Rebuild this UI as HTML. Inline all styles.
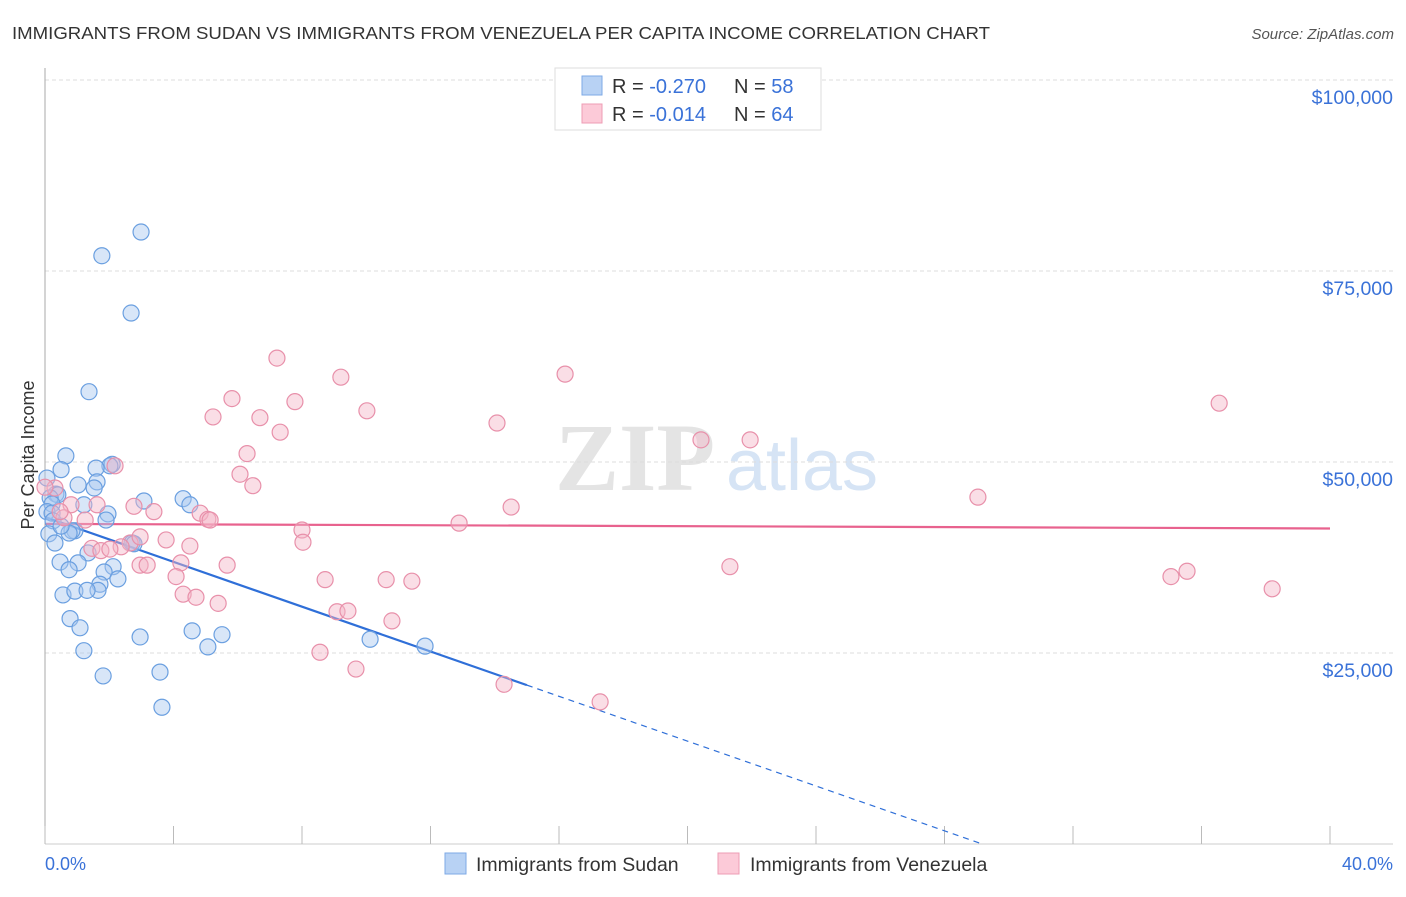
<!DOCTYPE html>
<html><head><meta charset="utf-8"><style>
body{margin:0;background:#fff;font-family:"Liberation Sans",sans-serif}
</style></head><body>
<svg width="1406" height="892" xmlns="http://www.w3.org/2000/svg" font-family="Liberation Sans, sans-serif">
<text x="12" y="39" font-size="17.5" fill="#333" textLength="978" lengthAdjust="spacingAndGlyphs">IMMIGRANTS FROM SUDAN VS IMMIGRANTS FROM VENEZUELA PER CAPITA INCOME CORRELATION CHART</text>
<text x="1394" y="39" font-size="15" fill="#555" font-style="italic" text-anchor="end">Source: ZipAtlas.com</text>
<g>
<text x="635" y="490" font-size="96" font-family="Liberation Serif, serif" fill="#e4e4e4" text-anchor="middle" font-weight="bold">ZIP</text>
<text x="802" y="490" font-size="72" fill="#d6e4f5" text-anchor="middle">atlas</text>
</g>
<g id="grid"></g>
<g id="axes"></g>
<g id="lines"></g>
<g id="pts"></g>
<text x="29" y="455" font-size="18" fill="#333" text-anchor="middle" transform="rotate(-90 29 455)" dy="5">Per Capita Income</text>
<text x="45" y="870" font-size="18" fill="#3a72d8">0.0%</text>
<text x="1393" y="870" font-size="18" fill="#3a72d8" text-anchor="end">40.0%</text>
<g>
<rect x="555" y="68" width="266" height="62" fill="#fff" stroke="#ddd"/>
<rect x="582" y="76" width="20" height="19" fill="#b8d2f4" stroke="#7ea9e6"/>
<rect x="582" y="104" width="20" height="19" fill="#fccad8" stroke="#ee9cb4"/>
<text x="612" y="93" font-size="20" fill="#333">R = <tspan fill="#3a72d8">-0.270</tspan><tspan x="734">N = </tspan><tspan fill="#3a72d8">58</tspan></text>
<text x="612" y="121" font-size="20" fill="#333">R = <tspan fill="#3a72d8">-0.014</tspan><tspan x="734">N = </tspan><tspan fill="#3a72d8">64</tspan></text>
</g>
<g>
<rect x="445" y="853" width="21" height="21" fill="#b8d2f4" stroke="#7ea9e6"/>
<text x="476" y="871" font-size="19.5" fill="#333">Immigrants from Sudan</text>
<rect x="718" y="853" width="21" height="21" fill="#fccad8" stroke="#ee9cb4"/>
<text x="750" y="871" font-size="19.5" fill="#333">Immigrants from Venezuela</text>
</g>
</svg>
<script>
const yTicks=[25000,50000,75000,100000];
const yTickLabels=["$25,000","$50,000","$75,000","$100,000"];
const xTicks=[0,4,8,12,16,20,24,28,32,36,40];
const sudanX=[2.99,1.77,2.68,1.37,0.65,0.50,2.09,2.02,1.59,1.03,1.62,1.53,0.34,0.40,0.16,1.21,0.22,3.08,4.30,4.51,0.06,0.22,1.96,1.90,0.25,0.93,0.84,0.75,0.12,2.71,2.77,1.34,0.47,1.03,2.12,1.84,0.75,2.27,1.71,0.56,0.93,1.65,1.31,0.78,1.09,2.96,4.58,5.51,5.07,1.21,1.81,3.58,3.64,10.12,11.83,0.06,0.31,0.50];
const sudanY=[80.1,77.0,69.5,59.2,50.8,49.0,49.7,49.5,49.2,47.0,47.4,46.6,45.8,45.7,45.3,44.4,44.5,44.9,45.2,44.4,43.5,43.3,43.2,42.4,42.3,41.0,41.0,40.7,40.6,39.4,39.3,38.1,36.9,36.8,36.3,35.6,35.9,34.7,34.0,32.6,33.1,33.2,33.2,29.5,28.3,27.1,27.9,27.4,25.8,25.3,22.0,22.5,17.9,26.8,25.9,47.9,39.4,41.6];
const venX=[7.22,16.19,9.21,5.82,7.78,10.02,5.23,6.69,14.07,7.32,20.42,21.95,6.29,2.18,6.07,6.47,0.31,29.04,14.51,2.77,0.81,1.62,3.39,4.83,5.07,0.59,12.89,8.00,3.77,4.51,2.65,2.37,1.46,1.74,2.02,2.96,3.18,5.67,4.23,4.08,8.72,10.62,11.42,21.32,35.55,35.05,4.30,4.70,5.39,9.09,9.43,10.80,8.56,9.68,14.29,17.28,36.55,38.20,0.0,0.47,5.14,8.03,1.25,2.96];
const venY=[63.6,61.5,61.1,58.3,57.9,56.7,55.9,55.8,55.1,53.9,52.9,52.9,51.1,49.5,48.4,46.9,46.6,45.4,44.1,44.2,44.4,44.4,43.5,43.3,42.5,42.7,42.0,41.1,39.8,39.0,39.4,38.9,38.7,38.4,38.6,36.5,36.5,36.5,36.8,35.0,34.6,34.6,34.4,36.3,35.7,35.0,32.7,32.3,31.5,30.4,30.5,29.2,25.1,22.9,20.9,18.6,57.7,33.4,46.7,43.5,42.4,39.5,42.4,40.2];
const sudanTrend=[42.8,-1.467];
const venTrend=[41.9,-0.015];
const sudanSolidEnd=15.0;

const NS="http://www.w3.org/2000/svg";
const X0=45,X1=1330,Y0=844,Y100=80;
const sx=v=>X0+(v/40)*(X1-X0);
const sy=v=>Y0-(v/100000)*(Y0-Y100);
function mk(tag,attrs,parent){const e=document.createElementNS(NS,tag);for(const k in attrs)e.setAttribute(k,attrs[k]);document.getElementById(parent).appendChild(e);return e;}
yTicks.forEach((t,i)=>{
 const l=mk('line',{x1:X0,x2:1393,y1:sy(t),y2:sy(t),stroke:'#ddd','stroke-dasharray':'4,3'},'grid');
 
 
 const tx=mk('text',{x:1393,y:sy(t)+24,'font-size':19.5,fill:'#3a72d8','text-anchor':'end'},'axes');
 tx.textContent=yTickLabels[i];
 
 
});
const ax=mk('line',{x1:X0,x2:X0,y1:68,y2:Y0,stroke:'#aaa'},'axes');


const bx=mk('line',{x1:X0,x2:1393,y1:Y0,y2:Y0,stroke:'#ccc'},'axes');


xTicks.forEach(t=>{
 const l=mk('line',{x1:sx(t),x2:sx(t),y1:Y0,y2:Y0-18,stroke:'#bbb'},'axes');
 
 
});
function pts(xs,ys,fill,stroke,name){
 xs.forEach((x,i)=>{
  const c=mk('circle',{cx:sx(x),cy:sy(ys[i]*1000),r:8,fill:fill,'fill-opacity':0.45,stroke:stroke,'stroke-width':1.2},'pts');
  
  
 });
}
pts(sudanX,sudanY,'#a8c8f0','#6a9fe0','sudan-point');
pts(venX,venY,'#f5b5c8','#e890aa','venezuela-point');
const ty=(tr,x)=>sy((tr[0]+tr[1]*x)*1000);
const zeroX=-sudanTrend[0]/sudanTrend[1];
const l1=mk('line',{x1:sx(0),y1:ty(sudanTrend,0),x2:sx(sudanSolidEnd),y2:ty(sudanTrend,sudanSolidEnd),stroke:'#2f6fd8','stroke-width':2.2},'lines');


const l2=mk('line',{x1:sx(sudanSolidEnd),y1:ty(sudanTrend,sudanSolidEnd),x2:sx(zeroX),y2:ty(sudanTrend,zeroX),stroke:'#2f6fd8','stroke-width':1.2,'stroke-dasharray':'6,5'},'lines');


const l3=mk('line',{x1:sx(0),y1:ty(venTrend,0),x2:sx(40),y2:ty(venTrend,40),stroke:'#e8628e','stroke-width':2.2},'lines');


</script>
</body></html>
